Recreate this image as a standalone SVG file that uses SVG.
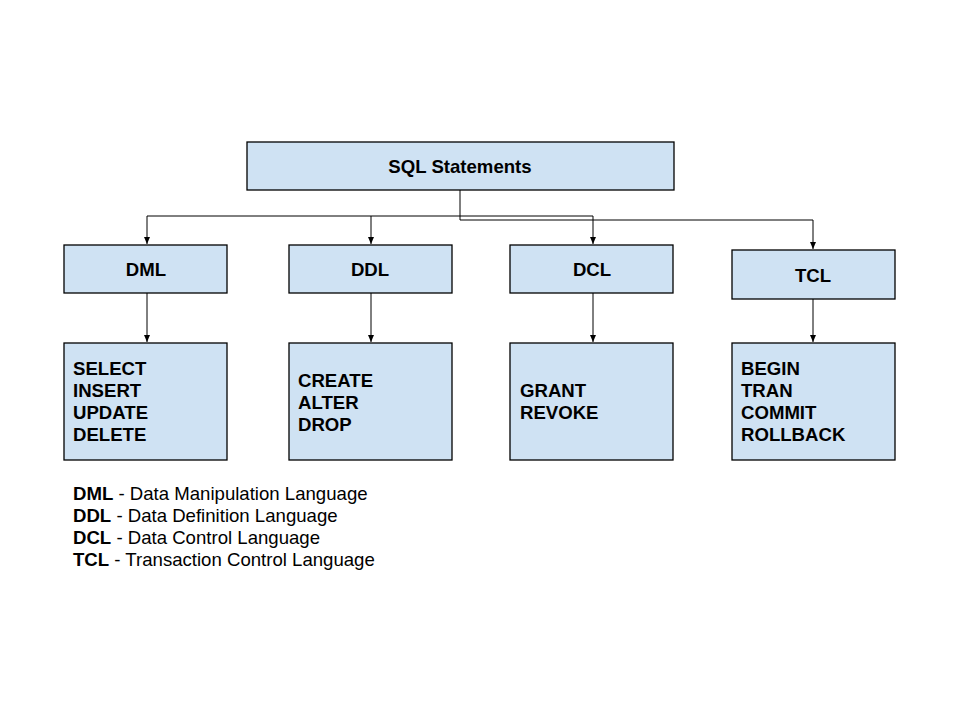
<svg xmlns="http://www.w3.org/2000/svg" width="960" height="720" viewBox="0 0 960 720">
<defs>
<marker id="ah" markerWidth="8" markerHeight="8" refX="7" refY="4" orient="auto" markerUnits="userSpaceOnUse">
<path d="M0,1 L7,4 L0,7 Z" fill="#000"/>
</marker>
<style>
.box{fill:#cfe2f3;stroke:#000;stroke-width:1.3}
.t{font-family:"Liberation Sans",Arial,sans-serif;font-weight:bold;font-size:18.6px;fill:#000}
.lbl{font-family:"Liberation Sans",Arial,sans-serif;font-weight:bold;font-size:18.6px;fill:#000;text-anchor:middle}
.leg{font-family:"Liberation Sans",Arial,sans-serif;font-size:18.6px;fill:#000}
.c{fill:none;stroke:#000;stroke-width:1}
</style>
</defs>
<rect width="960" height="720" fill="#fff"/>
<g id="connectors">
<path class="c" d="M460,190 V220 H813 V249" marker-end="url(#ah)"/>
<path class="c" d="M147,216 H593 V244" marker-end="url(#ah)"/>
<path class="c" d="M147,216 V244" marker-end="url(#ah)"/>
<path class="c" d="M371,216 V244" marker-end="url(#ah)"/>
<path class="c" d="M147,293 V342" marker-end="url(#ah)"/>
<path class="c" d="M371,293 V342" marker-end="url(#ah)"/>
<path class="c" d="M593,293 V342" marker-end="url(#ah)"/>
<path class="c" d="M813,299 V342" marker-end="url(#ah)"/>
</g>
<g id="sql">
<rect class="box" x="247" y="142" width="427" height="48"/>
<text class="lbl" x="460" y="173">SQL Statements</text>
</g>
<g id="dml">
<rect class="box" x="64" y="245" width="163" height="48"/>
<text class="lbl" x="146" y="276">DML</text>
</g>
<g id="ddl">
<rect class="box" x="289" y="245" width="163" height="48"/>
<text class="lbl" x="370" y="276">DDL</text>
</g>
<g id="dcl">
<rect class="box" x="510" y="245" width="163" height="48"/>
<text class="lbl" x="592" y="276">DCL</text>
</g>
<g id="tcl">
<rect class="box" x="732" y="250" width="163" height="49"/>
<text class="lbl" x="813" y="282">TCL</text>
</g>
<g id="dml-list">
<rect class="box" x="64" y="343" width="163" height="117"/>
<text class="t" x="73" y="375">SELECT</text>
<text class="t" x="73" y="397">INSERT</text>
<text class="t" x="73" y="419">UPDATE</text>
<text class="t" x="73" y="441">DELETE</text>
</g>
<g id="ddl-list">
<rect class="box" x="289" y="343" width="163" height="117"/>
<text class="t" x="298" y="387">CREATE</text>
<text class="t" x="298" y="409">ALTER</text>
<text class="t" x="298" y="431">DROP</text>
</g>
<g id="dcl-list">
<rect class="box" x="510" y="343" width="163" height="117"/>
<text class="t" x="520" y="397">GRANT</text>
<text class="t" x="520" y="419">REVOKE</text>
</g>
<g id="tcl-list">
<rect class="box" x="732" y="343" width="163" height="117"/>
<text class="t" x="741" y="375">BEGIN</text>
<text class="t" x="741" y="397">TRAN</text>
<text class="t" x="741" y="419">COMMIT</text>
<text class="t" x="741" y="441">ROLLBACK</text>
</g>
<g id="legend">
<text class="leg" x="73" y="500"><tspan font-weight="bold">DML</tspan> - Data Manipulation Language</text>
<text class="leg" x="73" y="522"><tspan font-weight="bold">DDL</tspan> - Data Definition Language</text>
<text class="leg" x="73" y="544"><tspan font-weight="bold">DCL</tspan> - Data Control Language</text>
<text class="leg" x="73" y="566"><tspan font-weight="bold">TCL</tspan> - Transaction Control Language</text>
</g>
</svg>
